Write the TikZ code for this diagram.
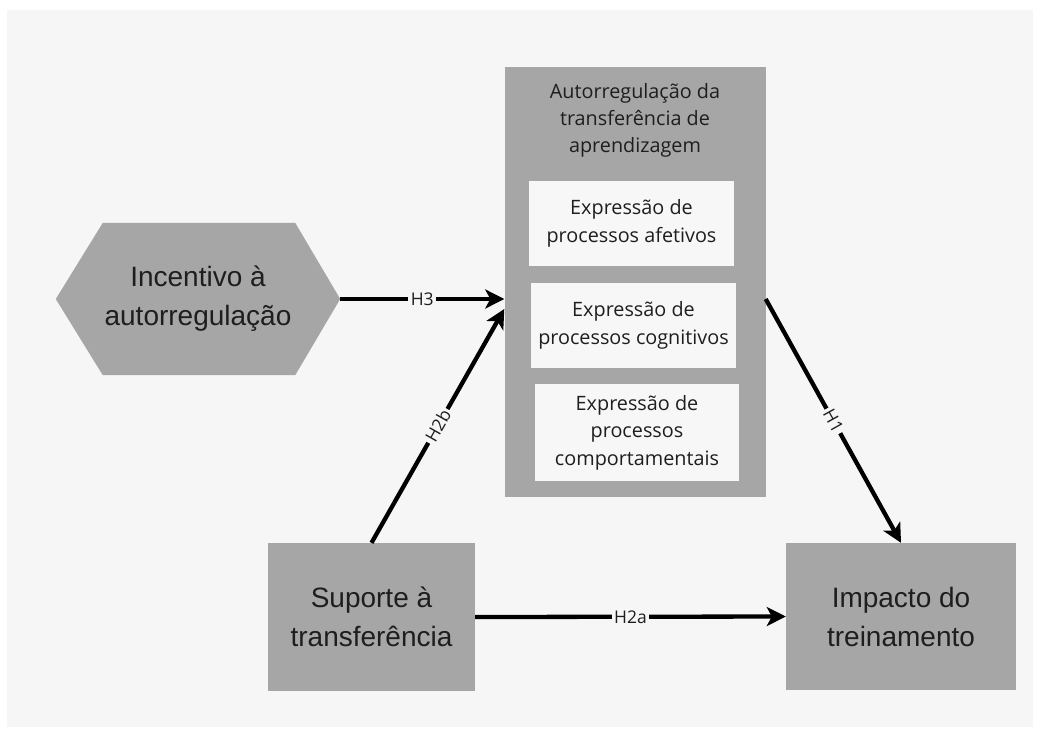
\documentclass[tikz,border=0pt]{standalone}
\usepackage{fontspec}
\setmainfont{Liberation Sans}
\newfontfamily\opensans{Open Sans}
\usetikzlibrary{arrows.meta,calc}
\definecolor{bgc}{HTML}{F6F6F6}
\definecolor{boxc}{HTML}{A6A6A6}
\definecolor{inner}{HTML}{F7F7F7}
\definecolor{txt}{HTML}{1E1E1E}
\tikzset{
  graybox/.style={fill=boxc, draw=none, align=center, text=txt, inner sep=0pt,
    font=\fontsize{28}{39}\selectfont},
  whitebox/.style={fill=inner, draw=none, align=center, text=txt, inner sep=0pt,
    font=\opensans\fontsize{19.8}{27.5}\selectfont},
  conn/.style={line width=4.3pt, draw=black, -{Stealth[length=19pt,width=19pt,inset=5pt]}},
  lbl/.style={fill=bgc, inner sep=2.5pt, text=txt, font=\opensans\fontsize{17.5}{17.5}\selectfont}
}
\begin{document}
\begin{tikzpicture}[x=1pt,y=-1pt]
\useasboundingbox (0,0) rectangle (1040,740);
\fill[white] (0,0) rectangle (1040,740);
\fill[bgc] (7,10) rectangle (1033,727);
% big box
\node[fill=boxc, minimum width=261pt, minimum height=430pt, inner sep=0pt] (big) at (635,282) {};
\node[align=center, text=txt, font=\opensans\fontsize{19.8}{27}\selectfont] (title) at (635,120) {Autorregulação da\\transferência de\\aprendizagem};
\node[whitebox, minimum width=205pt, minimum height=85pt] (e1) at (631.5,223.5) {Expressão de\\processos afetivos};
\node[whitebox, minimum width=205pt, minimum height=85pt] (e2) at (633.5,325.5) {Expressão de\\processos cognitivos};
\node[whitebox, minimum width=204pt, minimum height=97pt] (e3) at (637,432.5) {Expressão de\\processos\\comportamentais};
% hexagon
\node[minimum width=284pt, minimum height=152pt, inner sep=0pt] (inc) at (198,299) {};
\fill[boxc] (inc.west) -- ($(inc.north west)+(47,0)$) -- ($(inc.north east)+(-45,0)$) -- (inc.east)
  -- ($(inc.south east)+(-45,0)$) -- ($(inc.south west)+(47,0)$) -- cycle;
\node[align=center, text=txt, font=\fontsize{28}{39}\selectfont] at (inc.center) {Incentivo à\\autorregulação};
% boxes
\node[graybox, minimum width=207pt, minimum height=148pt] (sup) at (371.5,617) {Suporte à\\transferência};
\node[graybox, minimum width=230pt, minimum height=147pt] (imp) at (901,616.5) {Impacto do\\treinamento};
% connectors
\draw[conn] (inc.east) -- node[lbl]{H3} ([yshift=-17pt]big.west);
\draw[conn] (sup.north) -- node[lbl, sloped]{H2b} ([yshift=-27pt]big.west);
\draw[conn] ([yshift=-17pt]big.east) -- node[lbl, sloped]{H1} (imp.north);
\draw[conn] (sup.east) -- node[lbl]{H2a} (imp.west);
\end{tikzpicture}
\end{document}
